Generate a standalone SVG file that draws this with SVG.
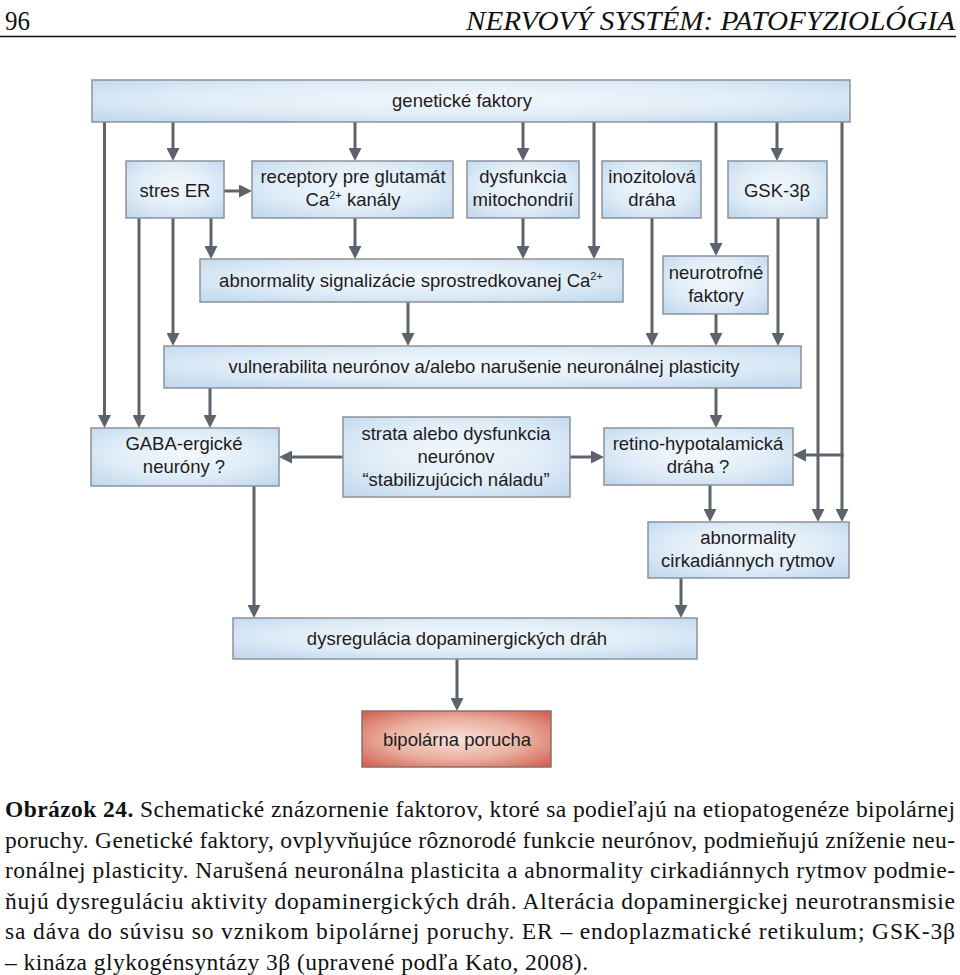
<svg xmlns="http://www.w3.org/2000/svg" width="960" height="975" viewBox="0 0 960 975">
<defs>
<radialGradient id="gb" cx="50%" cy="45%" r="72%">
<stop offset="0" stop-color="#f2f8fd"/>
<stop offset="0.55" stop-color="#dfecf7"/>
<stop offset="1" stop-color="#bfd7ed"/>
</radialGradient>
<radialGradient id="gr" cx="50%" cy="50%" r="72%">
<stop offset="0" stop-color="#f7e2da"/>
<stop offset="0.5" stop-color="#eab0a0"/>
<stop offset="1" stop-color="#d0574a"/>
</radialGradient>
<marker id="ah" viewBox="0 0 13 13" markerWidth="13" markerHeight="13" refX="4" refY="6.5" orient="auto" markerUnits="userSpaceOnUse">
<path d="M0,0 L13,6.5 L0,13 Z" fill="#5d636c"/>
</marker>
</defs>
<style>
.box{fill:url(#gb);stroke:#8d939b;stroke-width:1.5}
.red{fill:url(#gr);stroke:#85716d;stroke-width:1.5}
.t{font-family:"Liberation Sans",Arial,sans-serif;font-size:18.5px;fill:#1e1b1c;text-anchor:middle}
.sup{font-size:11px}
.c{stroke:#5d636c;stroke-width:3;fill:none}
.a{marker-end:url(#ah)}
.cap{font-family:"Liberation Serif","Times New Roman",serif;font-size:23.5px;fill:#111}
.hd{font-family:"Liberation Serif","Times New Roman",serif;font-size:28px;fill:#111}
</style>
<rect width="960" height="975" fill="#fff"/>

<g id="header">
<text class="hd" x="5" y="30" textLength="25" lengthAdjust="spacingAndGlyphs">96</text>
<text class="hd" x="955" y="30" text-anchor="end" font-style="italic" textLength="489" lengthAdjust="spacingAndGlyphs">NERVOVÝ SYSTÉM: PATOFYZIOLÓGIA</text>
<line x1="0" y1="36.5" x2="956" y2="36.5" stroke="#111" stroke-width="1.6"/>
</g>

<g id="connectors">
<path class="c a" d="M104.5,122 V419"/>
<path class="c a" d="M139,218 V419"/>
<path class="c a" d="M173,122 V152"/>
<path class="c a" d="M173,218 V337"/>
<path class="c a" d="M211,218 V250"/>
<path class="c a" d="M224,191 H243"/>
<path class="c a" d="M355,122 V152"/>
<path class="c a" d="M355,218 V250"/>
<path class="c a" d="M523,122 V152"/>
<path class="c a" d="M523,218 V250"/>
<path class="c a" d="M594,122 V250"/>
<path class="c a" d="M652,218 V337"/>
<path class="c a" d="M716,122 V247"/>
<path class="c a" d="M716,314 V337"/>
<path class="c a" d="M777,122 V152"/>
<path class="c a" d="M778,218 V337"/>
<path class="c a" d="M818,218 V513"/>
<path class="c a" d="M842,122 V513"/>
<path class="c a" d="M843.5,455 H802"/>
<path class="c a" d="M408,302 V337"/>
<path class="c a" d="M210,388 V419"/>
<path class="c a" d="M716,388 V419"/>
<path class="c a" d="M343,457 H288"/>
<path class="c a" d="M570,457 H595"/>
<path class="c a" d="M710,485 V513"/>
<path class="c a" d="M254,486 V609"/>
<path class="c a" d="M681,578 V609"/>
<path class="c a" d="M457,659 V702"/>
</g>

<g id="genetic">
<rect class="box" x="92" y="80" width="758" height="42"/>
<text class="t" x="462" y="107">genetické faktory</text>
</g>
<g id="stresER">
<rect class="box" x="126" y="161" width="98" height="57"/>
<text class="t" x="175" y="197">stres ER</text>
</g>
<g id="receptory">
<rect class="box" x="252" y="161" width="201" height="57"/>
<text class="t" x="353" y="183">receptory pre glutamát</text>
<text class="t" x="353" y="206">Ca<tspan class="sup" dy="-7">2+</tspan><tspan dy="7"> kanály</tspan></text>
</g>
<g id="mitochondrie">
<rect class="box" x="467" y="161" width="112" height="57"/>
<text class="t" x="523" y="183">dysfunkcia</text>
<text class="t" x="523" y="206">mitochondrií</text>
</g>
<g id="inozitol">
<rect class="box" x="602" y="161" width="99" height="57"/>
<text class="t" x="652" y="183">inozitolová</text>
<text class="t" x="652" y="206">dráha</text>
</g>
<g id="gsk">
<rect class="box" x="728" y="161" width="99" height="57"/>
<text class="t" x="777" y="197">GSK-3β</text>
</g>
<g id="calcium">
<rect class="box" x="200" y="259" width="423" height="43"/>
<text class="t" x="411" y="287">abnormality signalizácie sprostredkovanej Ca<tspan class="sup" dy="-7">2+</tspan></text>
</g>
<g id="neurotrofne">
<rect class="box" x="663" y="256" width="105" height="58"/>
<text class="t" x="716" y="279">neurotrofné</text>
<text class="t" x="716" y="302">faktory</text>
</g>
<g id="vulnerabilita">
<rect class="box" x="164" y="346" width="637" height="42"/>
<text class="t" x="484" y="373">vulnerabilita neurónov a/alebo narušenie neuronálnej plasticity</text>
</g>
<g id="gaba">
<rect class="box" x="91" y="428" width="188" height="58"/>
<text class="t" x="184" y="450">GABA-ergické</text>
<text class="t" x="184" y="473">neuróny ?</text>
</g>
<g id="strata">
<rect class="box" x="343" y="417" width="227" height="80"/>
<text class="t" x="456" y="440">strata alebo dysfunkcia</text>
<text class="t" x="456" y="463">neurónov</text>
<text class="t" x="456" y="486">“stabilizujúcich náladu”</text>
</g>
<g id="retino">
<rect class="box" x="604" y="428" width="189" height="57"/>
<text class="t" x="698" y="450">retino-hypotalamická</text>
<text class="t" x="698" y="473">dráha ?</text>
</g>
<g id="cirkadianne">
<rect class="box" x="648" y="522" width="201" height="56"/>
<text class="t" x="748" y="544">abnormality</text>
<text class="t" x="748" y="567">cirkadiánnych rytmov</text>
</g>
<g id="dopamin">
<rect class="box" x="233" y="618" width="464" height="41"/>
<text class="t" x="457" y="645">dysregulácia dopaminergických dráh</text>
</g>
<g id="bipolar">
<rect class="red" x="362" y="711" width="189" height="56"/>
<text class="t" x="457" y="746">bipolárna porucha</text>
</g>

<g id="caption">
<text class="cap" x="5" y="817" textLength="950" lengthAdjust="spacing"><tspan font-weight="bold">Obrázok 24.</tspan> Schematické znázornenie faktorov, ktoré sa podieľajú na etiopatogenéze bipolárnej</text>
<text class="cap" x="5" y="847.5" textLength="950" lengthAdjust="spacing">poruchy. Genetické faktory, ovplyvňujúce rôznorodé funkcie neurónov, podmieňujú zníženie neu-</text>
<text class="cap" x="5" y="878" textLength="950" lengthAdjust="spacing">ronálnej plasticity. Narušená neuronálna plasticita a abnormality cirkadiánnych rytmov podmie-</text>
<text class="cap" x="5" y="908.5" textLength="950" lengthAdjust="spacing">ňujú dysreguláciu aktivity dopaminergických dráh. Alterácia dopaminergickej neurotransmisie</text>
<text class="cap" x="5" y="939" textLength="950" lengthAdjust="spacing">sa dáva do súvisu so vznikom bipolárnej poruchy. ER – endoplazmatické retikulum; GSK-3β</text>
<text class="cap" x="5" y="969.5" textLength="583" lengthAdjust="spacing">– kináza glykogénsyntázy 3β (upravené podľa Kato, 2008).</text>
</g>
</svg>
